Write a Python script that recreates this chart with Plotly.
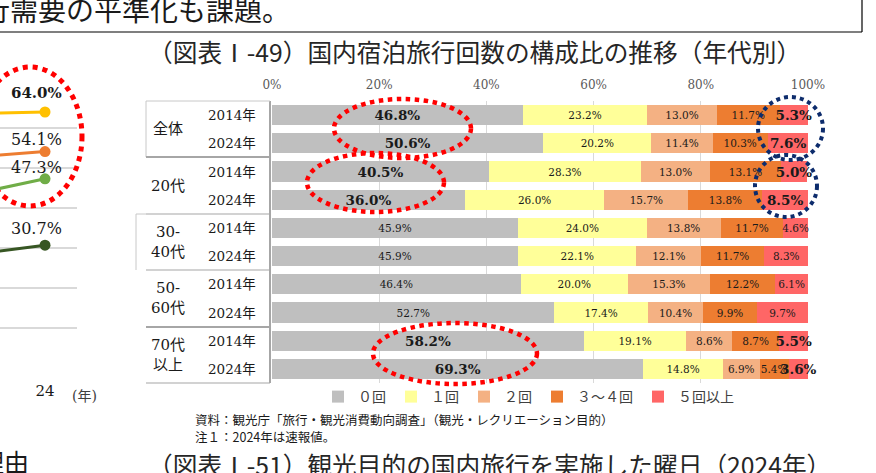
import plotly.graph_objects as go

# ---- data: 国内宿泊旅行回数の構成比（年代別） ----
groups = ["全体", "20代", "30-<br>40代", "50-<br>60代", "70代<br>以上"]
years = ["2014年", "2024年"]
counts = ["０回", "１回", "２回", "３～４回", "５回以上"]

zero = [46.8, 50.6, 40.5, 36.0, 45.9, 45.9, 46.4, 52.7, 58.2, 69.3]
one = [23.2, 20.2, 28.3, 26.0, 24.0, 22.1, 20.0, 17.4, 19.1, 14.8]
two = [13.0, 11.4, 13.0, 15.7, 13.8, 12.1, 15.3, 10.4, 8.6, 6.9]
three_four = [11.7, 10.3, 13.1, 13.8, 11.7, 11.7, 12.2, 9.9, 8.7, 5.4]
five_plus = [5.3, 7.6, 5.0, 8.5, 4.6, 8.3, 6.1, 9.7, 5.5, 3.6]

bold_groups = ["全体", "20代", "70代<br>以上"]
bold_counts = ["０回", "５回以上"]

# left (partly visible) line chart
line_years = [23, 24]
line_gold = [63.7, 64.0]
line_orange = [53.0, 54.1]
line_lgreen = [44.1, 47.3]
line_dgreen = [28.8, 30.7]

W, H = 876, 473


def px(x):
    return x / W


def py(y):
    return 1 - y / H


rows = list(range(len(groups) * len(years)))
row_group = [g for g in groups for _ in years]
row_year = [y for _ in groups for y in years]

colors = ["#BFBFBF", "#FFFF99", "#F4B183", "#ED7D31", "#FF6666"]
series = [zero, one, two, three_four, five_plus]

fig = go.Figure()

for name, vals, col in zip(counts, series, colors):
    txt, sizes = [], []
    for g, v in zip(row_group, vals):
        if g in bold_groups and name in bold_counts:
            txt.append(f"<b>{v:.1f}%</b>")
            sizes.append(13.5)
        else:
            txt.append(f"{v:.1f}%")
            sizes.append(10.5)
    fig.add_trace(go.Bar(
        x=vals, y=rows, orientation="h", name=name,
        marker=dict(color=col, line=dict(width=0)),
        width=0.71,
        text=txt, textposition="inside", insidetextanchor="middle",
        textangle=0, constraintext="none", cliponaxis=False,
        textfont=dict(family="DejaVu Serif", size=sizes, color="#1a1a1a"),
        hoverinfo="skip",
        xaxis="x", yaxis="y",
    ))

line_series = [line_gold, line_orange, line_lgreen, line_dgreen]
line_colors = ["#FFC000", "#ED7D31", "#70AD47", "#375623"]
for vals, col in zip(line_series, line_colors):
    fig.add_trace(go.Scatter(
        x=line_years, y=vals, mode="lines+markers",
        line=dict(color=col, width=3), marker=dict(color=col, size=11),
        showlegend=False, hoverinfo="skip", xaxis="x2", yaxis="y2",
    ))


def note(x, y, text, size, color="#1a1a1a", family="Noto Sans CJK JP", xanchor="center"):
    return dict(x=px(x), y=py(y), xref="paper", yref="paper", text=text,
                showarrow=False, xanchor=xanchor, yanchor="middle",
                font=dict(family=family, size=size, color=color))


annotations = []
# value labels of the line chart
label_shift = [19, 12, 11, 17]
for i, (vals, sh) in enumerate(zip(line_series, label_shift)):
    t = f"{vals[-1]:.1f}%"
    annotations.append(dict(
        x=line_years[-1], y=vals[-1], xref="x2", yref="y2",
        text=f"<b>{t}</b>" if i == 0 else t, showarrow=False,
        xanchor="center", yanchor="middle", xshift=-9, yshift=sh,
        font=dict(family="DejaVu Serif", size=15 if i == 0 else 16, color="#1a1a1a"),
    ))
annotations.append(note(84, 396, "(年)", 14, "#404040", "DejaVu Serif, Noto Sans CJK JP"))

# row labels (table on the left of the bars)
row_top, row_h = 101, 28.2
serif_jp = "DejaVu Serif, Noto Sans CJK JP"
for r, yr in zip(rows, row_year):
    annotations.append(note(232, row_top + row_h * (r + 0.5), yr, 13.5, family=serif_jp))
for gi, g in enumerate(groups):
    annotations.append(note(168, row_top + row_h * (2 * gi + 1), g, 15, family=serif_jp))

# titles and notes
annotations += [
    note(-20, 9, "行需要の平準化も課題。", 28, xanchor="left"),
    note(146, 51, "（図表Ⅰ-49）国内宿泊旅行回数の構成比の推移（年代別）", 24.7, "#262626", xanchor="left"),
    note(193, 419, "資料：観光庁「旅行・観光消費動向調査」（観光・レクリエーション目的）", 12.5, xanchor="left"),
    note(193, 436, "注１：2024年は速報値。", 12.5, xanchor="left"),
    note(146, 464, "（図表Ⅰ-51）観光目的の国内旅行を実施した曜日（2024年）", 24.7, "#262626", xanchor="left"),
    note(31, 461, "理由", 25, xanchor="right"),
]

shapes = []


def hline(y, x0, x1, color="#A6A6A6", w=1.5):
    shapes.append(dict(type="line", xref="paper", yref="paper",
                       x0=px(x0), x1=px(x1), y0=py(y), y1=py(y),
                       line=dict(color=color, width=w)))


def vline(x, y0, y1, color="#A6A6A6", w=1.5):
    shapes.append(dict(type="line", xref="paper", yref="paper",
                       x0=px(x), x1=px(x), y0=py(y0), y1=py(y1),
                       line=dict(color=color, width=w)))


def ellipse(x0, y0, x1, y1, color, w):
    shapes.append(dict(type="circle", xref="paper", yref="paper",
                       x0=px(x0), x1=px(x1), y0=py(y0), y1=py(y1),
                       line=dict(color=color, width=w, dash="dot")))


# frame of the text box at the top
hline(32, 0, 862, "#000000", 1.2)
vline(862, 0, 32, "#000000", 1.2)

# table borders
vline(270, 101, 383, "#A6A6A6", 2)
hline(101, 146, 270, "#C8C8C8", 1)
vline(146, 101, 157, "#C8C8C8", 1)
for yb in [157, 214, 270, 327, 383]:
    hline(yb, 146, 270, "#A6A6A6", 2 if yb in (157, 327) else 1.2)
hline(214, 136, 146, "#C8C8C8", 1)
vline(136, 214, 270, "#C8C8C8", 1)

# highlight ellipses
ellipse(-22, 67, 82, 206, "#FF0000", 5)
ellipse(334, 99, 471, 158, "#FF0000", 4.5)
ellipse(307, 153, 444, 212, "#FF0000", 4.5)
ellipse(373, 323, 537, 384, "#FF0000", 4.5)
ellipse(758, 97, 823, 160, "#0D2C6C", 4)
ellipse(755, 155, 817, 217, "#0D2C6C", 4)

fig.update_layout(
    width=W, height=H,
    margin=dict(l=0, r=0, t=0, b=0, autoexpand=False),
    paper_bgcolor="white", plot_bgcolor="white",
    barmode="stack",
    xaxis=dict(
        domain=[px(272), px(808.6)], range=[0, 100.12], side="top",
        tickvals=[0, 20, 40, 60, 80, 100],
        ticktext=["0%", "20%", "40%", "60%", "80%", "100%"],
        tickfont=dict(family="DejaVu Serif", size=12, color="#595959"),
        ticklabelstandoff=9,
        showgrid=True, gridcolor="#D9D9D9", gridwidth=1,
        zeroline=False, showline=False, ticks="", anchor="y",
    ),
    yaxis=dict(
        domain=[py(383), py(101)], range=[9.5, -0.5],
        showticklabels=False, showgrid=False, zeroline=False, ticks="",
        anchor="x",
    ),
    xaxis2=dict(
        domain=[0, px(77)], range=[23.25, 24.533],
        tickvals=[24], ticktext=["24"],
        tickfont=dict(family="DejaVu Serif", size=15, color="#1a1a1a"),
        ticklabelstandoff=12,
        showgrid=False, zeroline=False, showline=False, ticks="", anchor="y2",
    ),
    yaxis2=dict(
        domain=[py(368), py(88)], range=[0, 70], dtick=10,
        showticklabels=False, showgrid=True, gridcolor="#D9D9D9", gridwidth=1.5,
        zeroline=False, ticks="", anchor="x2",
    ),
    legend=dict(
        orientation="h", x=px(318), xanchor="left", y=py(397), yanchor="middle",
        font=dict(family="Noto Sans CJK JP", size=14, color="#404040"),
        bgcolor="rgba(0,0,0,0)", traceorder="normal",
    ),
    annotations=annotations,
    shapes=shapes,
)

# the page's default body margin would push the figure 8px right/down
fig.write_html("out.html", config={"displayModeBar": False},
               post_script="document.body.style.margin = '0px';")
